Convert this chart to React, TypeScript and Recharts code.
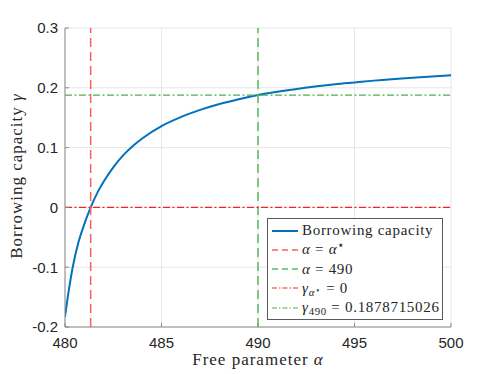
import { LineChart, Line, XAxis, YAxis, CartesianGrid, ReferenceLine } from 'recharts';

// values
const alphaValues = [480, 480.2, 480.4, 480.7, 481, 481.33, 481.7, 482, 482.5, 483, 483.5, 484, 485, 486, 487, 488, 489, 490, 492, 494, 495, 496, 498, 500];
const gammaValues = [-0.183, -0.138, -0.1, -0.058, -0.028, 0, 0.026, 0.043, 0.067, 0.0865, 0.1022, 0.1153, 0.136, 0.151, 0.163, 0.173, 0.181, 0.1879, 0.198, 0.206, 0.209, 0.212, 0.217, 0.221];

const xTicks = [480, 485, 490, 495, 500];
const yTicks = [-0.2, -0.1, 0, 0.1, 0.2, 0.3];
const yTickLabels = ['-0.2', '-0.1', '0', '0.1', '0.2', '0.3'];

const alphaStar = 481.33;
const alphaMark = 490;
const gammaStar = 0;
const gamma490 = 0.1878715026;

const data = alphaValues.map((a, i) => ({ alpha: a, gamma: gammaValues[i] }));

const AXIS = '#8a8a8a';
const TEXT = '#262626';
const TICK_LEN = 4;
const SANS = '"Liberation Sans", Arial, sans-serif';
const SERIF = '"Liberation Serif", "Times New Roman", serif';

const BLUE = '#0072BD';
const RED_V = '#ff5c5c';
const GREEN_V = '#5cb85c';
const RED_H = '#f52222';
const GREEN_H = '#4fae4f';

const BottomTick = (props: any) => {
  const { x, y, payload } = props;
  return (
    <g>
      <line x1={x} y1={y} x2={x} y2={y - TICK_LEN} stroke={AXIS} />
      <text x={x} y={y + 21} textAnchor="middle" fill={TEXT} fontSize={15} fontFamily={SANS}>
        {payload.value}
      </text>
    </g>
  );
};

const TopTick = (props: any) => {
  const { x, y } = props;
  return <line x1={x} y1={y} x2={x} y2={y + TICK_LEN} stroke={AXIS} />;
};

const LeftTick = (props: any) => {
  const { x, y, payload, index } = props;
  return (
    <g>
      <line x1={x} y1={y} x2={x + TICK_LEN} y2={y} stroke={AXIS} />
      <text x={x - 7} y={y} dy="0.36em" textAnchor="end" fill={TEXT} fontSize={15} fontFamily={SANS}>
        {yTickLabels[index] ?? payload.value}
      </text>
    </g>
  );
};

const RightTick = (props: any) => {
  const { x, y } = props;
  return <line x1={x} y1={y} x2={x - TICK_LEN} y2={y} stroke={AXIS} />;
};

const it = { fontStyle: 'italic' as const };
const subStyle = { fontSize: '0.72em', verticalAlign: '-0.3em', lineHeight: 0 };
const starStyle = { fontSize: '0.8em', verticalAlign: '0.45em', lineHeight: 0 };

const legendItems = [
  { color: BLUE, dash: '', width: 2, label: <>Borrowing capacity</> },
  { color: RED_V, dash: '6 4', width: 1.5, label: <><span style={it}>α</span> = <span style={it}>α</span><span style={starStyle}>⋆</span></> },
  { color: GREEN_V, dash: '6 4', width: 1.5, label: <><span style={it}>α</span> = 490</> },
  { color: RED_H, dash: '5 2 1.5 2', width: 1.2, label: <><span style={it}>γ</span><span style={subStyle}><span style={it}>α</span><span style={{ fontSize: '0.8em', verticalAlign: '0.3em' }}>⋆</span></span> = 0</> },
  { color: GREEN_H, dash: '5 2 1.5 2', width: 1.2, label: <><span style={it}>γ</span><span style={subStyle}>490</span> = 0.1878715026</> },
];

export default function App() {
  return (
    <div style={{ position: 'absolute', left: 0, top: 0, width: 498, height: 374, background: '#fff' }}>
      <LineChart width={498} height={374} data={data} margin={{ top: 28, right: 47, bottom: 0, left: 0 }}>
        <CartesianGrid stroke="#e6e6e6" strokeWidth={1} />
        <XAxis
          dataKey="alpha"
          type="number"
          domain={[480, 500]}
          ticks={xTicks}
          allowDataOverflow
          height={47}
          stroke={AXIS}
          tickLine={false}
          tickSize={0}
          tickMargin={0}
          tick={<BottomTick />}
        />
        <XAxis
          xAxisId="top"
          orientation="top"
          type="number"
          domain={[480, 500]}
          ticks={xTicks}
          allowDataOverflow
          height={0}
          stroke={AXIS}
          tickLine={false}
          tickSize={0}
          tickMargin={0}
          tick={<TopTick />}
        />
        <YAxis
          type="number"
          domain={[-0.2, 0.3]}
          ticks={yTicks}
          allowDataOverflow
          width={65}
          stroke={AXIS}
          tickLine={false}
          tickSize={0}
          tickMargin={0}
          tick={<LeftTick />}
        />
        <YAxis
          yAxisId="right"
          orientation="right"
          type="number"
          domain={[-0.2, 0.3]}
          ticks={yTicks}
          allowDataOverflow
          width={0}
          stroke={AXIS}
          tickLine={false}
          tickSize={0}
          tickMargin={0}
          tick={<RightTick />}
        />
        <Line
          dataKey="gamma"
          type="monotone"
          stroke={BLUE}
          strokeWidth={2}
          dot={false}
          activeDot={false}
          isAnimationActive={false}
        />
        <ReferenceLine x={alphaStar} stroke={RED_V} strokeWidth={1.5} strokeDasharray="9 5" />
        <ReferenceLine x={alphaMark} stroke={GREEN_V} strokeWidth={1.5} strokeDasharray="9 5" />
        <ReferenceLine y={gammaStar} stroke={RED_H} strokeWidth={1.4} strokeDasharray="7 2.5 2 2.5" />
        <ReferenceLine y={gamma490} stroke={GREEN_H} strokeWidth={1.3} strokeDasharray="7 2.5 2 2.5" />
      </LineChart>

      <div
        style={{
          position: 'absolute',
          left: 17,
          top: 176,
          transform: 'translate(-50%, -50%) rotate(-90deg)',
          whiteSpace: 'nowrap',
          fontFamily: SERIF,
          fontSize: 17,
          letterSpacing: 1,
          color: TEXT,
        }}
      >
        Borrowing capacity <span style={it}>γ</span>
      </div>

      <div
        style={{
          position: 'absolute',
          left: 258,
          top: 360,
          transform: 'translate(-50%, -50%)',
          whiteSpace: 'nowrap',
          fontFamily: SERIF,
          fontSize: 17,
          letterSpacing: 1,
          color: TEXT,
        }}
      >
        Free parameter <span style={it}>α</span>
      </div>

      <div
        style={{
          position: 'absolute',
          left: 267,
          top: 218,
          width: 176,
          height: 102,
          border: '1px solid #5a5a5a',
          background: '#fff',
          boxSizing: 'border-box',
          paddingTop: 2,
          fontFamily: SERIF,
          fontSize: 15,
          letterSpacing: 0.7,
          color: TEXT,
        }}
      >
        {legendItems.map((item, i) => (
          <div key={i} style={{ height: 19.25, display: 'flex', alignItems: 'center', whiteSpace: 'nowrap' }}>
            <svg width={34} height={10} style={{ flex: 'none' }}>
              <line
                x1={4}
                y1={5}
                x2={30}
                y2={5}
                stroke={item.color}
                strokeWidth={item.width}
                strokeDasharray={item.dash || undefined}
              />
            </svg>
            <span>{item.label}</span>
          </div>
        ))}
      </div>
    </div>
  );
}
